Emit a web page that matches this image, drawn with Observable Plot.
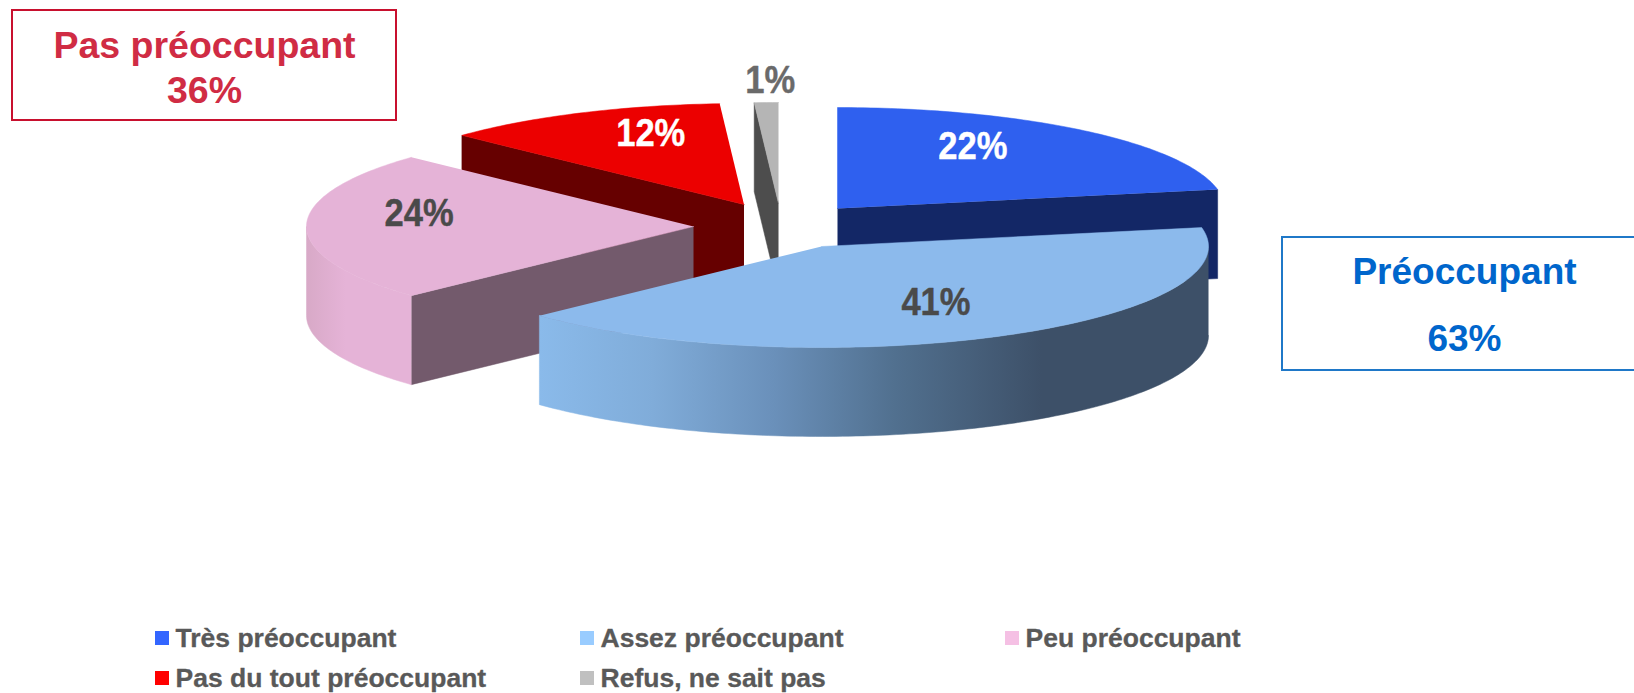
<!DOCTYPE html>
<html lang="fr">
<head>
<meta charset="utf-8">
<script src="https://cdn.jsdelivr.net/npm/d3@7"></script>
<script src="https://cdn.jsdelivr.net/npm/@observablehq/plot@0.6"></script>
<style>html,body{margin:0;padding:0;background:#fff;overflow:hidden}svg{display:block}</style>
</head>
<body>
<div id="chart"></div>
<script>
// Data
const categories = ["Très préoccupant", "Assez préoccupant", "Peu préoccupant", "Pas du tout préoccupant", "Refus, ne sait pas"];
const values = [22, 41, 24, 12, 1];
const groupNames = ["Pas préoccupant", "Préoccupant"];
const groupValues = [36, 63];

// Styles
const topColors = ["#2f60ef", "#8cbaec", "#e5b3d7", "#ec0000", "#b5b5b5"];
const faceColors = ["#132766", null, "#735a6c", "#660000", "#4d4d4d"];
const swatchColors = ["#3366ff", "#99ccff", "#f5c0e4", "#ff0000", "#c0c0c0"];
const labelColors = ["#ffffff", "#4a4a4a", "#4a4a4a", "#ffffff", "#6a6a6a"];

// Layout of the exploded 3D pie
const rx = 387, ry = 101, depth = 89;
const apexX = [837, 821, 693, 743.5, 778];
const apexY = [208, 246, 226, 204, 203];
const labelAngle = [30, 152, 280, 341, 359];
const labelRadius = [0.70, 0.63, 0.72, 0.74, 1.21];
const drawOrder = [0, 4, 3, 2, 1];

// Geometry derived from the values
const ends = Array.from(d3.cumsum(values), (v) => v / d3.sum(values) * 360);
const starts = ends.map((e, i) => (i ? ends[i - 1] : 0));
const rad = (a) => a * Math.PI / 180;
const rim = (i, a, dy = 0) => ({x: apexX[i] + rx * Math.sin(rad(a)), y: apexY[i] - ry * Math.cos(rad(a)) + dy});
const arc = (i, a0, a1, dy = 0) => {
  const n = Math.max(2, Math.ceil(Math.abs(a1 - a0)));
  return d3.range(n + 1).map((k) => rim(i, a0 + (a1 - a0) * k / n, dy));
};
const topPoly = (i) => [{x: apexX[i], y: apexY[i]}, ...arc(i, starts[i], ends[i])];
const wallPoly = (i, a0, a1) => [...arc(i, a0, a1), ...arc(i, a1, a0, depth)];
const facePoly = (i, a) => {
  const p = rim(i, a);
  return [{x: apexX[i], y: apexY[i]}, p, {x: p.x, y: p.y + depth}, {x: apexX[i], y: apexY[i] + depth}];
};
// Which cut face shows towards the viewer
const faceAngle = [ends[0], null, starts[2], starts[3], starts[4]];
const wallRange = (i) => {
  const a0 = Math.max(starts[i], 90), a1 = Math.min(ends[i], 270);
  return a1 > a0 ? [a0, a1] : null;
};

const poly = (pts, fill) => Plot.line(pts, {x: "x", y: "y", fill, stroke: fill, strokeWidth: 0.5, curve: "linear"});

const defs = () => {
  const svg = d3.create("svg:g");
  const d = svg.append("defs");
  const grad = (id, x1, x2, stops) => {
    const g = d.append("linearGradient").attr("id", id).attr("gradientUnits", "userSpaceOnUse")
      .attr("x1", x1).attr("x2", x2).attr("y1", 0).attr("y2", 0);
    stops.forEach(([o, c]) => g.append("stop").attr("offset", o).attr("stop-color", c));
  };
  grad("wall1", 539, 1209, [[0, "#8abaea"], [0.17, "#80acd9"], [0.35, "#6a90ba"], [0.53, "#51708f"], [0.75, "#3d5068"], [1, "#3d5068"]]);
  grad("wall2", 306, 345, [[0, "#d8a9c7"], [1, "#e5b3d7"]]);
  return svg.node();
};
const wallFill = ["none", "url(#wall1)", "url(#wall2)", "none", "none"];

const sliceMarks = drawOrder.flatMap((i) => {
  const m = [];
  if (faceAngle[i] != null) m.push(poly(facePoly(i, faceAngle[i]), faceColors[i]));
  const w = wallRange(i);
  if (w) m.push(poly(wallPoly(i, w[0], w[1]), wallFill[i]));
  m.push(poly(topPoly(i), topColors[i]));
  return m;
});

const labels = values.map((v, i) => ({
  text: `${v}%`,
  x: apexX[i] + rx * labelRadius[i] * Math.sin(rad(labelAngle[i])),
  y: apexY[i] - ry * labelRadius[i] * Math.cos(rad(labelAngle[i])) - 0.5,
  color: labelColors[i]
}));

// The reference's slice labels are slightly condensed and tall
const stretchText = (index, scales, channels, dimensions, context, next) => {
  const g = next(index, scales, channels, dimensions, context);
  d3.select(g).selectAll("text").attr("transform", function () {
    return `${this.getAttribute("transform")} scale(0.96,1.1)`;
  });
  return g;
};

const legendX = [155, 580, 1005, 155, 580];
const legendY = [639, 639, 639, 679, 679];
const legend = categories.map((c, i) => ({name: c, x: legendX[i], y: legendY[i], color: swatchColors[i]}));

const font = "'Liberation Sans', Arial, sans-serif";
const boxes = [
  {x1: 12, x2: 396, y1: 10, y2: 120, color: "#c8102e", text: "#d02c44", size: 37.5, lines: [[groupNames[0], 45], [`${groupValues[0]}%`, 90]], cx: 204},
  {x1: 1282, x2: 1660, y1: 237, y2: 370, color: "#1f78c8", text: "#0066cc", size: 37, lines: [[groupNames[1], 272], [`${groupValues[1]}%`, 339]], cx: 1464}
];
const boxLines = boxes.flatMap((b) => b.lines.map(([t, y]) => ({t, y, x: b.cx, color: b.text, size: b.size})));

const chart = Plot.plot({
  width: 1634, height: 693,
  margin: 0,
  style: {background: "#fff", fontFamily: font},
  x: {type: "linear", domain: [0, 1634], range: [0, 1634], axis: null},
  y: {type: "linear", domain: [0, 693], range: [0, 693], axis: null},
  color: {type: "identity"},
  marks: [
    defs,
    ...sliceMarks,
    Plot.text(labels, {x: "x", y: "y", text: "text", fill: "color", stroke: "color", strokeWidth: 0.4, fontSize: 36, fontWeight: "bold", render: stretchText}),
    Plot.rect(boxes, {x1: "x1", x2: "x2", y1: "y1", y2: "y2", fill: "none", stroke: "color", strokeWidth: 2}),
    Plot.text(boxLines, {x: "x", y: "y", text: "t", fill: "color", fontSize: "size", fontWeight: "bold"}),
    Plot.rect(legend, {x1: "x", x2: (d) => d.x + 14, y1: (d) => d.y - 8, y2: (d) => d.y + 6, fill: "color"}),
    Plot.text(legend, {x: (d) => d.x + 20, y: (d) => d.y - 1, text: "name", textAnchor: "start", fill: "#595959", stroke: "#595959", strokeWidth: 0.3, fontSize: 26.5, fontWeight: "bold"})
  ]
});
document.getElementById("chart").append(chart);
</script>
</body>
</html>
